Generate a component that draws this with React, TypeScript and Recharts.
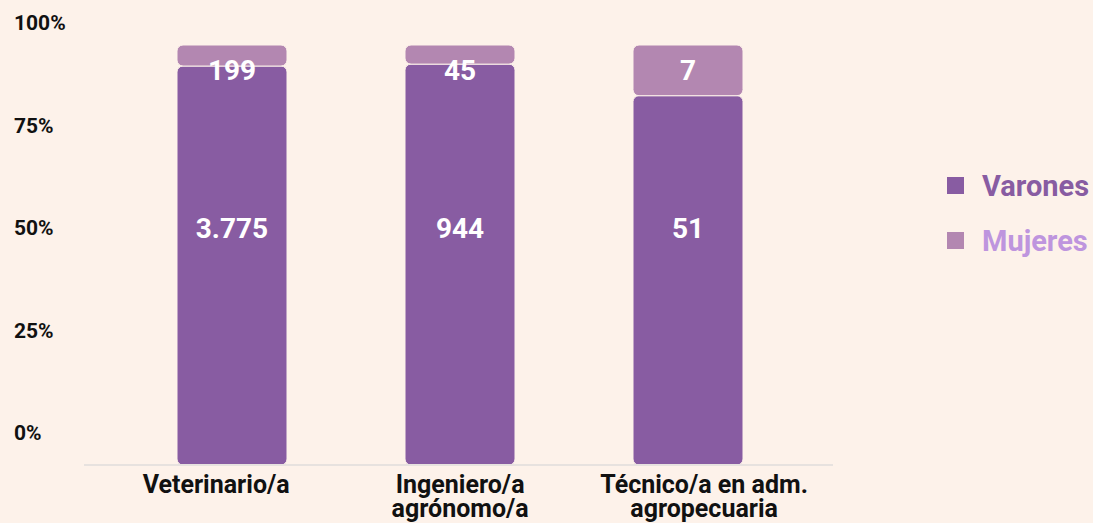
import React from "react";
import { BarChart, Bar, XAxis, YAxis, LabelList } from "recharts";

const categories = ["Veterinario/a", "Ingeniero/a agrónomo/a", "Técnico/a en adm. agropecuaria"];
const categoryLines = [["Veterinario/a"], ["Ingeniero/a", "agrónomo/a"], ["Técnico/a en adm.", "agropecuaria"]];
const varones = [3775, 944, 51];
const mujeres = [199, 45, 7];
const yTicks = [0, 0.25, 0.5, 0.75, 1];
const seriesNames = ["Varones", "Mujeres"];

const BG = "#FDF2EA";
const C_VARONES = "#885CA2";
const C_MUJERES = "#B387B1";
const FONT = "Roboto, 'Noto Sans', sans-serif";

const W = 1093;
const H = 523;
const TOP = 45;
const BOTTOM = 465;

const data = categories.map((name, i) => ({ name, varones: varones[i], mujeres: mujeres[i] }));

const fmt = (v: number) => String(v).replace(/\B(?=(\d{3})+(?!\d))/g, ".");

// tick labels sit a bit above the bar scale in the original
const tickY = (y: number) => 23 + (y - TOP) * (410 / (BOTTOM - TOP));

const YTick = (props: any) => {
  const { y, payload } = props;
  return (
    <text x={14} y={tickY(y)} dy="0.35em" textAnchor="start" fontFamily={FONT} fontWeight={700} fontSize={21} fill="#111">
      {`${Math.round(payload.value * 100)}%`}
    </text>
  );
};

const XTick = (props: any) => {
  const { x, payload, index } = props;
  const mid = 458;
  const cx = mid + (x - mid) * 1.07;
  const lines = categoryLines[index] ?? [payload.value];
  return (
    <g>
      {lines.map((l, k) => (
        <text key={k} x={cx} y={493 + k * 24} textAnchor="middle" fontFamily={FONT} fontWeight={700} fontSize={25} fill="#111">
          {l}
        </text>
      ))}
    </g>
  );
};

const makeLabel = (labelY: number) => (props: any) => {
  const { x, width, value } = props;
  return (
    <text x={x + width / 2} y={labelY} dy="0.35em" textAnchor="middle" fontFamily={FONT} fontWeight={700} fontSize={28} fill="#fff">
      {fmt(value)}
    </text>
  );
};

const legendItems = [
  { name: seriesNames[0], box: C_VARONES, text: C_VARONES },
  { name: seriesNames[1], box: C_MUJERES, text: "#BE95DE" },
];

export default function App() {
  return (
    <div style={{ position: "absolute", left: 0, top: 0, width: W, height: H, background: BG }}>
      <BarChart
        width={W}
        height={H}
        data={data}
        stackOffset="expand"
        margin={{ top: TOP, right: W - 833, bottom: 0, left: 0 }}
      >
        <XAxis
          dataKey="name"
          height={H - BOTTOM}
          axisLine={{ stroke: "#E7E2DF", strokeWidth: 2 }}
          tickLine={false}
          tick={<XTick />}
          interval={0}
          padding={{ left: 34, right: 31 }}
        />
        <YAxis width={84} domain={[0, 1]} ticks={yTicks} axisLine={false} tickLine={false} tick={<YTick />} />
        <Bar dataKey="varones" stackId="a" fill={C_VARONES} barSize={110} radius={6} stroke={BG} strokeWidth={1} isAnimationActive={false}>
          <LabelList dataKey="varones" content={makeLabel(228)} />
        </Bar>
        <Bar dataKey="mujeres" stackId="a" fill={C_MUJERES} barSize={110} radius={6} stroke={BG} strokeWidth={1} isAnimationActive={false}>
          <LabelList dataKey="mujeres" content={makeLabel(70)} />
        </Bar>
      </BarChart>
      <div style={{ position: "absolute", left: 947, top: 158, fontFamily: FONT, fontWeight: 700, fontSize: 29, whiteSpace: "nowrap" }}>
        {legendItems.map((it) => (
          <div key={it.name} style={{ display: "flex", alignItems: "center", height: 55 }}>
            <span style={{ width: 17, height: 17, background: it.box, marginRight: 18, display: "inline-block" }} />
            <span style={{ color: it.text }}>{it.name}</span>
          </div>
        ))}
      </div>
    </div>
  );
}
